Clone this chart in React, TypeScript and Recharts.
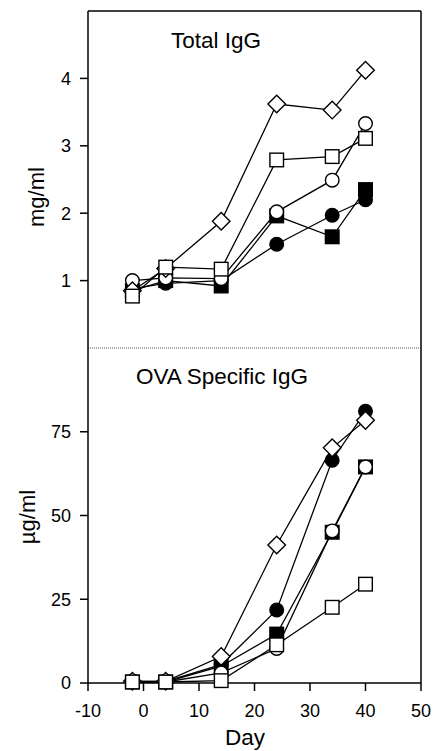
import React from 'react'
import { LineChart, Line, XAxis, YAxis, ReferenceLine } from 'recharts'

const FONT = '"Liberation Sans", Arial, Helvetica, sans-serif'

// sampling days (x)
const DAYS = [-2, 4, 14, 24, 34, 40]
const X_TICKS = [-10, 0, 10, 20, 30, 40, 50]
const TOTAL_TICKS = [1, 2, 3, 4]
const OVA_TICKS = [0, 25, 50, 75]

// Total IgG, mg/ml
const totalFilledCircle = [0.88, 0.96, 1.0, 1.54, 1.97, 2.2]
const totalFilledSquare = [0.85, 1.0, 0.92, 1.96, 1.65, 2.35]
const totalOpenCircle = [1.0, 1.04, 1.03, 2.02, 2.49, 3.33]
const totalDiamond = [0.85, 1.18, 1.88, 3.62, 3.53, 4.12]
const totalOpenSquare = [0.77, 1.2, 1.17, 2.79, 2.84, 3.11]

// OVA specific IgG, µg/ml
const ovaFilledCircle = [0.5, 0.5, 5.5, 21.8, 66.5, 81.1]
const ovaFilledSquare = [0.3, 0.3, 5.0, 14.6, 45.0, 64.5]
const ovaOpenCircle = [0.3, 0.3, 3.0, 10.3, 45.4, 64.5]
const ovaDiamond = [0.5, 0.5, 7.9, 41.2, 70.2, 78.4]
const ovaOpenSquare = [0.3, 0.3, 0.7, 11.4, 22.6, 29.5]

// draw order matters: later series sit on top
const SERIES = [
  { key: 'filledCircle', shape: 'circle', filled: true },
  { key: 'filledSquare', shape: 'square', filled: true },
  { key: 'openCircle', shape: 'circle', filled: false },
  { key: 'diamond', shape: 'diamond', filled: false },
  { key: 'openSquare', shape: 'square', filled: false },
]

const totalData = DAYS.map((day, i) => ({
  day,
  filledCircle: totalFilledCircle[i],
  filledSquare: totalFilledSquare[i],
  openCircle: totalOpenCircle[i],
  diamond: totalDiamond[i],
  openSquare: totalOpenSquare[i],
}))

const ovaData = DAYS.map((day, i) => ({
  day,
  filledCircle: ovaFilledCircle[i],
  filledSquare: ovaFilledSquare[i],
  openCircle: ovaOpenCircle[i],
  diamond: ovaDiamond[i],
  openSquare: ovaOpenSquare[i],
}))

function Marker({ cx, cy, shape, filled }: any) {
  if (cx == null || cy == null) return null
  const fill = filled ? '#000' : '#fff'
  const common = { fill, stroke: '#000', strokeWidth: 1.4 }
  if (shape === 'circle') return <circle cx={cx} cy={cy} r={6.8} {...common} />
  if (shape === 'square')
    return <rect x={cx - 6.8} y={cy - 6.8} width={13.6} height={13.6} {...common} />
  const d = 8.8
  return (
    <polygon
      points={`${cx},${cy - d} ${cx + d},${cy} ${cx},${cy + d} ${cx - d},${cy}`}
      {...common}
    />
  )
}

function renderLines() {
  return SERIES.map((s) => (
    <Line
      key={s.key}
      dataKey={s.key}
      stroke="#000"
      strokeWidth={1.3}
      isAnimationActive={false}
      activeDot={false}
      dot={(p: any) => (
        <Marker key={`${s.key}-${p.index}`} cx={p.cx} cy={p.cy} shape={s.shape} filled={s.filled} />
      )}
    />
  ))
}

const tickStyle = { fill: '#000', fontSize: 18, fontFamily: FONT }
const textStyle = { fill: '#000', fontFamily: FONT }

export default function App() {
  return (
    <div style={{ position: 'absolute', left: 0, top: 0, width: 436, height: 751, background: '#fff' }}>
      {/* top panel: Total IgG */}
      <div style={{ position: 'absolute', left: 0, top: 0 }}>
        <LineChart width={436} height={360} data={totalData} margin={{ top: 11, right: 15, bottom: 12, left: 0 }}>
          <XAxis dataKey="day" type="number" domain={[-10, 50]} ticks={X_TICKS} hide />
          <YAxis
            type="number"
            domain={[0, 5]}
            ticks={TOTAL_TICKS}
            width={88}
            stroke="#000"
            strokeWidth={1.5}
            tickSize={8}
            tickMargin={9}
            tick={tickStyle}
          />
          <ReferenceLine y={5} stroke="#000" strokeWidth={1.5} />
          <ReferenceLine x={50} stroke="#000" strokeWidth={1.5} />
          <ReferenceLine y={0} stroke="#555" strokeWidth={1.2} strokeDasharray="1 1" />
          {renderLines()}
          <text x={216} y={48} textAnchor="middle" fontSize={22.5} style={textStyle}>
            Total IgG
          </text>
          <text x={44} y={197} textAnchor="middle" fontSize={22} transform="rotate(-90 44 197)" style={textStyle}>
            mg/ml
          </text>
        </LineChart>
      </div>

      {/* bottom panel: OVA specific IgG */}
      <div style={{ position: 'absolute', left: 0, top: 340 }}>
        <LineChart width={436} height={411} data={ovaData} margin={{ top: 8, right: 15, bottom: 0, left: 0 }}>
          <XAxis
            dataKey="day"
            type="number"
            domain={[-10, 50]}
            ticks={X_TICKS}
            height={68}
            stroke="#000"
            strokeWidth={1.5}
            tickSize={8}
            tickMargin={13}
            tick={tickStyle}
          />
          <YAxis
            type="number"
            domain={[0, 100]}
            ticks={OVA_TICKS}
            width={88}
            stroke="#000"
            strokeWidth={1.5}
            tickSize={8}
            tickMargin={9}
            tick={tickStyle}
          />
          <ReferenceLine x={50} stroke="#000" strokeWidth={1.5} />
          {renderLines()}
          <text x={222} y={44} textAnchor="middle" fontSize={22.5} style={textStyle}>
            OVA Specific IgG
          </text>
          <text x={35} y={177} textAnchor="middle" fontSize={22} transform="rotate(-90 35 177)" style={textStyle}>
            µg/ml
          </text>
          <text x={245} y={405} textAnchor="middle" fontSize={22.5} style={textStyle}>
            Day
          </text>
        </LineChart>
      </div>
    </div>
  )
}
